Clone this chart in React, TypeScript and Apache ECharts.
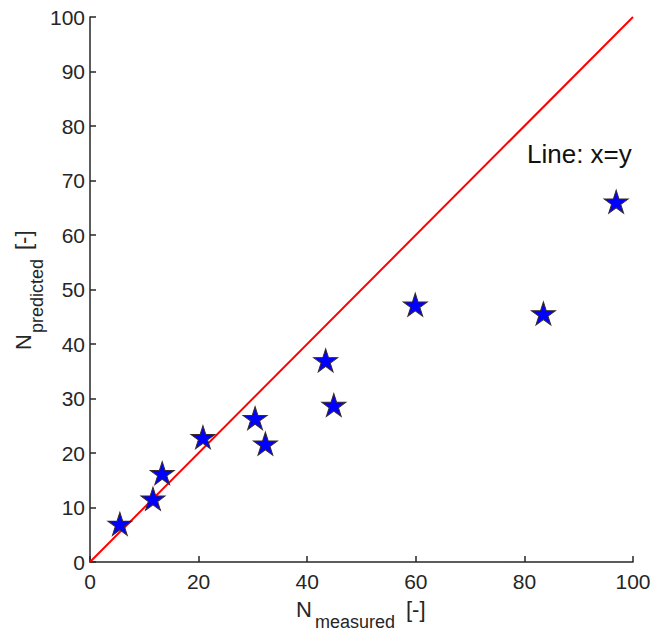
import React, { useEffect, useRef } from "react";
import * as echarts from "echarts";

const measured = [5.5, 11.6, 13.3, 20.8, 30.4, 32.3, 43.4, 44.9, 59.9, 83.5, 96.9];
const predicted = [7.0, 11.6, 16.3, 22.9, 26.4, 21.7, 37.0, 28.8, 47.2, 45.6, 66.1];
const identityLine = [
  [0, 0],
  [100, 100],
];
const xTicks = { min: 0, max: 100, interval: 20 };
const yTicks = { min: 0, max: 100, interval: 10 };
const annotation = "Line: x=y";

const FONT = "'Liberation Sans', Arial, sans-serif";
const AX = "#262626";

const STAR =
  "path://M50,0 L61.2,34.5 L97.6,34.5 L68.2,55.9 L79.4,90.5 L50,69.1 L20.6,90.5 L31.8,55.9 L2.4,34.5 L38.8,34.5 Z";

export default function App() {
  const ref = useRef<HTMLDivElement>(null);
  useEffect(() => {
    if (!ref.current) return;
    const chart = echarts.init(ref.current, undefined, { renderer: "svg" });
    const points = measured.map((m, i) => [m, predicted[i]]);
    chart.setOption({
      animation: false,
      backgroundColor: "#ffffff",
      grid: { left: 90, top: 17, right: 22, bottom: 70, containLabel: false },
      xAxis: {
        type: "value",
        min: xTicks.min,
        max: xTicks.max,
        interval: xTicks.interval,
        axisLine: { show: true, onZero: false, lineStyle: { color: AX, width: 1.5 } },
        axisTick: { show: true, inside: true, length: 6, lineStyle: { color: AX, width: 1.5 } },
        axisLabel: { color: AX, fontSize: 21, fontFamily: FONT, margin: 9 },
        splitLine: { show: false },
      },
      yAxis: {
        type: "value",
        min: yTicks.min,
        max: yTicks.max,
        interval: yTicks.interval,
        axisLine: { show: true, onZero: false, lineStyle: { color: AX, width: 1.5 } },
        axisTick: { show: true, inside: true, length: 6, lineStyle: { color: AX, width: 1.5 } },
        axisLabel: { color: AX, fontSize: 21, fontFamily: FONT, margin: 5 },
        splitLine: { show: false },
      },
      series: [
        {
          type: "line",
          data: identityLine,
          symbol: "none",
          lineStyle: { color: "#ff0000", width: 2 },
          silent: true,
          z: 2,
        },
        {
          type: "scatter",
          data: points,
          symbol: STAR,
          symbolSize: [24, 23],
          itemStyle: { color: "#0000ff", borderColor: "#3a2a2a", borderWidth: 1, opacity: 1 },
          z: 3,
        },
      ],
      graphic: [
        {
          type: "text",
          left: 527,
          top: 141,
          style: { text: annotation, fontSize: 26, fontFamily: FONT, fill: "#111111" },
        },
        // x axis name
        {
          type: "text",
          x: 296,
          y: 609,
          style: { text: "N", fontSize: 22, fontFamily: FONT, fill: AX, align: "left", verticalAlign: "middle" },
        },
        {
          type: "text",
          x: 315,
          y: 622,
          style: { text: "measured", fontSize: 18, fontFamily: FONT, fill: AX, align: "left", verticalAlign: "middle" },
        },
        {
          type: "text",
          x: 406,
          y: 609,
          style: { text: "[-]", fontSize: 22, fontFamily: FONT, fill: AX, align: "left", verticalAlign: "middle" },
        },
        // y axis name (rotated)
        {
          type: "text",
          x: 23.5,
          y: 350,
          rotation: Math.PI / 2,
          style: { text: "N", fontSize: 22, fontFamily: FONT, fill: AX, align: "left", verticalAlign: "middle" },
        },
        {
          type: "text",
          x: 36.5,
          y: 333,
          rotation: Math.PI / 2,
          style: { text: "predicted", fontSize: 18, fontFamily: FONT, fill: AX, align: "left", verticalAlign: "middle" },
        },
        {
          type: "text",
          x: 23.5,
          y: 250,
          rotation: Math.PI / 2,
          style: { text: "[-]", fontSize: 22, fontFamily: FONT, fill: AX, align: "left", verticalAlign: "middle" },
        },
      ],
    });
    return () => chart.dispose();
  }, []);
  return (
    <div
      ref={ref}
      style={{ position: "fixed", left: 0, top: 0, width: 655, height: 632, background: "#fff" }}
    />
  );
}
